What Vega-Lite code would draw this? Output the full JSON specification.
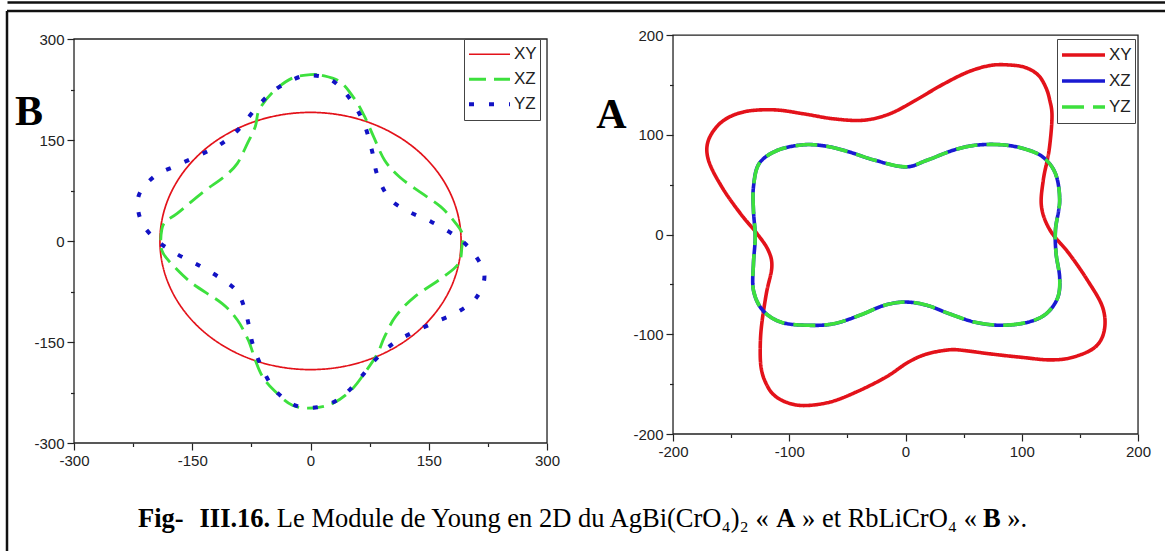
{
  "$schema": "https://vega.github.io/schema/vega-lite/v6.json",
  "autosize": "none",
  "padding": {"left": 7, "top": 11, "right": 0, "bottom": 0},
  "width": 1158,
  "height": 540,
  "background": "white",
  "config": {
    "view": {"stroke": "#111", "strokeWidth": 2.5, "strokeDash": [1158, 1698, 540, 0]},
    "axis": {"domain": false, "grid": false, "labelFont": "Liberation Sans", "labelFontSize": 15, "labelColor": "#222", "tickColor": "#222", "tickWidth": 1.2, "labelPadding": 3, "title": null, "labelFlush": false, "labelOverlap": false}
  },
  "datasets": {
    "frameB": [{"x": -300, "x2": 300, "y": -300, "y2": 300}],
    "frameA": [{"x": -200, "x2": 200, "y": -200, "y2": 200}],
    "letterB": [{"x": -357, "y": 172, "text": "B"}],
    "letterA": [{"x": -253, "y": 107, "text": "A"}],
    "capBold": [
      {"x": -218.8, "y": -424.8, "text": "Fig-"},
      {"x": -140.8, "y": -424.8, "text": "III.16."},
      {"x": 590.9, "y": -424.8, "text": "A"},
      {"x": 853.1, "y": -424.8, "text": "B"}
    ],
    "capReg": [
      {"x": -42.7, "y": -424.8, "text": "Le Module de Young en 2D du AgBi(CrO₄)₂ «"},
      {"x": 623.5, "y": -424.8, "text": "» et RbLiCrO₄ «"},
      {"x": 883.9, "y": -424.8, "text": "»."}
    ],
    "curvesB": [
      {"series": "XY", "i": 0, "x": 191, "y": 0},
      {"series": "XY", "i": 1, "x": 188.1, "y": 33.2},
      {"series": "XY", "i": 2, "x": 179.5, "y": 65.3},
      {"series": "XY", "i": 3, "x": 165.4, "y": 95.5},
      {"series": "XY", "i": 4, "x": 146.3, "y": 122.8},
      {"series": "XY", "i": 5, "x": 122.8, "y": 146.3},
      {"series": "XY", "i": 6, "x": 95.5, "y": 165.4},
      {"series": "XY", "i": 7, "x": 65.3, "y": 179.5},
      {"series": "XY", "i": 8, "x": 33.2, "y": 188.1},
      {"series": "XY", "i": 9, "x": 0, "y": 191},
      {"series": "XY", "i": 10, "x": -33.2, "y": 188.1},
      {"series": "XY", "i": 11, "x": -65.3, "y": 179.5},
      {"series": "XY", "i": 12, "x": -95.5, "y": 165.4},
      {"series": "XY", "i": 13, "x": -122.8, "y": 146.3},
      {"series": "XY", "i": 14, "x": -146.3, "y": 122.8},
      {"series": "XY", "i": 15, "x": -165.4, "y": 95.5},
      {"series": "XY", "i": 16, "x": -179.5, "y": 65.3},
      {"series": "XY", "i": 17, "x": -188.1, "y": 33.2},
      {"series": "XY", "i": 18, "x": -191, "y": 0},
      {"series": "XY", "i": 19, "x": -188.1, "y": -33.2},
      {"series": "XY", "i": 20, "x": -179.5, "y": -65.3},
      {"series": "XY", "i": 21, "x": -165.4, "y": -95.5},
      {"series": "XY", "i": 22, "x": -146.3, "y": -122.8},
      {"series": "XY", "i": 23, "x": -122.8, "y": -146.3},
      {"series": "XY", "i": 24, "x": -95.5, "y": -165.4},
      {"series": "XY", "i": 25, "x": -65.3, "y": -179.5},
      {"series": "XY", "i": 26, "x": -33.2, "y": -188.1},
      {"series": "XY", "i": 27, "x": 0, "y": -191},
      {"series": "XY", "i": 28, "x": 33.2, "y": -188.1},
      {"series": "XY", "i": 29, "x": 65.3, "y": -179.5},
      {"series": "XY", "i": 30, "x": 95.5, "y": -165.4},
      {"series": "XY", "i": 31, "x": 122.8, "y": -146.3},
      {"series": "XY", "i": 32, "x": 146.3, "y": -122.8},
      {"series": "XY", "i": 33, "x": 165.4, "y": -95.5},
      {"series": "XY", "i": 34, "x": 179.5, "y": -65.3},
      {"series": "XY", "i": 35, "x": 188.1, "y": -33.2},
      {"series": "XZ", "i": 0, "x": 0, "y": 247},
      {"series": "XZ", "i": 1, "x": 14.5, "y": 246},
      {"series": "XZ", "i": 2, "x": 38, "y": 236},
      {"series": "XZ", "i": 3, "x": 57, "y": 209},
      {"series": "XZ", "i": 4, "x": 68.5, "y": 185},
      {"series": "XZ", "i": 5, "x": 80, "y": 155},
      {"series": "XZ", "i": 6, "x": 94, "y": 120},
      {"series": "XZ", "i": 7, "x": 113, "y": 95},
      {"series": "XZ", "i": 8, "x": 141, "y": 71},
      {"series": "XZ", "i": 9, "x": 165, "y": 51},
      {"series": "XZ", "i": 10, "x": 181, "y": 31},
      {"series": "XZ", "i": 11, "x": 192.6, "y": 11},
      {"series": "XZ", "i": 12, "x": 192, "y": -9},
      {"series": "XZ", "i": 13, "x": 188, "y": -33},
      {"series": "XZ", "i": 14, "x": 169, "y": -53},
      {"series": "XZ", "i": 15, "x": 132, "y": -83},
      {"series": "XZ", "i": 16, "x": 108, "y": -112},
      {"series": "XZ", "i": 17, "x": 94, "y": -142},
      {"series": "XZ", "i": 18, "x": 85, "y": -167},
      {"series": "XZ", "i": 19, "x": 71, "y": -192},
      {"series": "XZ", "i": 20, "x": 52, "y": -221},
      {"series": "XZ", "i": 21, "x": 28.5, "y": -241},
      {"series": "XZ", "i": 22, "x": 3, "y": -248},
      {"series": "XZ", "i": 23, "x": -23, "y": -244},
      {"series": "XZ", "i": 24, "x": -47, "y": -221},
      {"series": "XZ", "i": 25, "x": -61, "y": -201},
      {"series": "XZ", "i": 26, "x": -70, "y": -177},
      {"series": "XZ", "i": 27, "x": -79, "y": -147},
      {"series": "XZ", "i": 28, "x": -93, "y": -117},
      {"series": "XZ", "i": 29, "x": -112, "y": -93},
      {"series": "XZ", "i": 30, "x": -150, "y": -63},
      {"series": "XZ", "i": 31, "x": -173, "y": -38},
      {"series": "XZ", "i": 32, "x": -187, "y": -18},
      {"series": "XZ", "i": 33, "x": -190, "y": 0},
      {"series": "XZ", "i": 34, "x": -186, "y": 26},
      {"series": "XZ", "i": 35, "x": -169, "y": 41},
      {"series": "XZ", "i": 36, "x": -136, "y": 73},
      {"series": "XZ", "i": 37, "x": -110, "y": 95},
      {"series": "XZ", "i": 38, "x": -93, "y": 115},
      {"series": "XZ", "i": 39, "x": -80, "y": 145},
      {"series": "XZ", "i": 40, "x": -70, "y": 170},
      {"series": "XZ", "i": 41, "x": -65, "y": 195},
      {"series": "XZ", "i": 42, "x": -47, "y": 222},
      {"series": "XZ", "i": 43, "x": -23, "y": 242},
      {"series": "YZ", "i": 0, "x": 0, "y": 246},
      {"series": "YZ", "i": 1, "x": 28, "y": 238},
      {"series": "YZ", "i": 2, "x": 52, "y": 208},
      {"series": "YZ", "i": 3, "x": 68, "y": 174},
      {"series": "YZ", "i": 4, "x": 78, "y": 134},
      {"series": "YZ", "i": 5, "x": 85, "y": 97},
      {"series": "YZ", "i": 6, "x": 101, "y": 62},
      {"series": "YZ", "i": 7, "x": 126, "y": 43},
      {"series": "YZ", "i": 8, "x": 154, "y": 28},
      {"series": "YZ", "i": 9, "x": 183, "y": 8},
      {"series": "YZ", "i": 10, "x": 204, "y": -14},
      {"series": "YZ", "i": 11, "x": 220.5, "y": -49},
      {"series": "YZ", "i": 12, "x": 211, "y": -83},
      {"series": "YZ", "i": 13, "x": 187.5, "y": -105},
      {"series": "YZ", "i": 14, "x": 159, "y": -120},
      {"series": "YZ", "i": 15, "x": 131, "y": -135},
      {"series": "YZ", "i": 16, "x": 105, "y": -152},
      {"series": "YZ", "i": 17, "x": 81.6, "y": -177},
      {"series": "YZ", "i": 18, "x": 60.5, "y": -207},
      {"series": "YZ", "i": 19, "x": 37, "y": -234},
      {"series": "YZ", "i": 20, "x": 8.7, "y": -247},
      {"series": "YZ", "i": 21, "x": -19.5, "y": -244},
      {"series": "YZ", "i": 22, "x": -45, "y": -221.5},
      {"series": "YZ", "i": 23, "x": -62, "y": -187},
      {"series": "YZ", "i": 24, "x": -73.6, "y": -152},
      {"series": "YZ", "i": 25, "x": -80.7, "y": -113},
      {"series": "YZ", "i": 26, "x": -92.5, "y": -76},
      {"series": "YZ", "i": 27, "x": -116, "y": -54},
      {"series": "YZ", "i": 28, "x": -142, "y": -36},
      {"series": "YZ", "i": 29, "x": -170, "y": -19},
      {"series": "YZ", "i": 30, "x": -196, "y": 2},
      {"series": "YZ", "i": 31, "x": -215, "y": 30},
      {"series": "YZ", "i": 32, "x": -218, "y": 67},
      {"series": "YZ", "i": 33, "x": -198, "y": 96},
      {"series": "YZ", "i": 34, "x": -170, "y": 112},
      {"series": "YZ", "i": 35, "x": -142, "y": 127},
      {"series": "YZ", "i": 36, "x": -115, "y": 143},
      {"series": "YZ", "i": 37, "x": -91, "y": 166},
      {"series": "YZ", "i": 38, "x": -70, "y": 196},
      {"series": "YZ", "i": 39, "x": -48, "y": 222},
      {"series": "YZ", "i": 40, "x": -22, "y": 240}
    ],
    "curvesA": [
      {"series": "XY", "i": 0, "x": 89, "y": 170},
      {"series": "XY", "i": 1, "x": 103, "y": 167.5},
      {"series": "XY", "i": 2, "x": 114, "y": 160},
      {"series": "XY", "i": 3, "x": 120.5, "y": 148},
      {"series": "XY", "i": 4, "x": 124, "y": 135},
      {"series": "XY", "i": 5, "x": 126, "y": 118},
      {"series": "XY", "i": 6, "x": 123.5, "y": 84.5},
      {"series": "XY", "i": 7, "x": 118.5, "y": 54.6},
      {"series": "XY", "i": 8, "x": 117, "y": 27.6},
      {"series": "XY", "i": 9, "x": 124.5, "y": 4},
      {"series": "XY", "i": 10, "x": 140.6, "y": -19},
      {"series": "XY", "i": 11, "x": 156.6, "y": -46},
      {"series": "XY", "i": 12, "x": 169.5, "y": -72.8},
      {"series": "XY", "i": 13, "x": 171, "y": -96},
      {"series": "XY", "i": 14, "x": 163, "y": -113},
      {"series": "XY", "i": 15, "x": 144, "y": -123},
      {"series": "XY", "i": 16, "x": 124.5, "y": -125.7},
      {"series": "XY", "i": 17, "x": 98.8, "y": -123},
      {"series": "XY", "i": 18, "x": 73, "y": -119.7},
      {"series": "XY", "i": 19, "x": 50.6, "y": -116.3},
      {"series": "XY", "i": 20, "x": 37.8, "y": -115.6},
      {"series": "XY", "i": 21, "x": 18.5, "y": -119.7},
      {"series": "XY", "i": 22, "x": 2.4, "y": -128},
      {"series": "XY", "i": 23, "x": -16.9, "y": -143},
      {"series": "XY", "i": 24, "x": -42.6, "y": -158},
      {"series": "XY", "i": 25, "x": -65, "y": -168},
      {"series": "XY", "i": 26, "x": -87.6, "y": -171.5},
      {"series": "XY", "i": 27, "x": -103, "y": -168},
      {"series": "XY", "i": 28, "x": -114, "y": -160},
      {"series": "XY", "i": 29, "x": -120.5, "y": -148},
      {"series": "XY", "i": 30, "x": -124, "y": -135},
      {"series": "XY", "i": 31, "x": -125, "y": -118},
      {"series": "XY", "i": 32, "x": -124, "y": -93},
      {"series": "XY", "i": 33, "x": -119.7, "y": -59},
      {"series": "XY", "i": 34, "x": -115, "y": -32.6},
      {"series": "XY", "i": 35, "x": -118, "y": -16},
      {"series": "XY", "i": 36, "x": -127.7, "y": 0.8},
      {"series": "XY", "i": 37, "x": -142, "y": 21},
      {"series": "XY", "i": 38, "x": -158, "y": 47.7},
      {"series": "XY", "i": 39, "x": -169.5, "y": 74.5},
      {"series": "XY", "i": 40, "x": -169.5, "y": 94.6},
      {"series": "XY", "i": 41, "x": -158, "y": 113},
      {"series": "XY", "i": 42, "x": -139, "y": 123},
      {"series": "XY", "i": 43, "x": -113, "y": 125},
      {"series": "XY", "i": 44, "x": -87.6, "y": 121},
      {"series": "XY", "i": 45, "x": -61.9, "y": 116},
      {"series": "XY", "i": 46, "x": -36, "y": 114.6},
      {"series": "XY", "i": 47, "x": -13.6, "y": 121},
      {"series": "XY", "i": 48, "x": 8.8, "y": 134.7},
      {"series": "XY", "i": 49, "x": 31.3, "y": 150},
      {"series": "XY", "i": 50, "x": 53.8, "y": 163},
      {"series": "XY", "i": 51, "x": 73, "y": 169.5},
      {"series": "XZ", "i": 0, "x": 0, "y": 67.8},
      {"series": "XZ", "i": 1, "x": 18.5, "y": 74.5},
      {"series": "XZ", "i": 2, "x": 41, "y": 84.5},
      {"series": "XZ", "i": 3, "x": 60, "y": 89.5},
      {"series": "XZ", "i": 4, "x": 82.7, "y": 90},
      {"series": "XZ", "i": 5, "x": 102, "y": 86},
      {"series": "XZ", "i": 6, "x": 118, "y": 77.8},
      {"series": "XZ", "i": 7, "x": 129, "y": 61},
      {"series": "XZ", "i": 8, "x": 132.6, "y": 34},
      {"series": "XZ", "i": 9, "x": 129, "y": 5},
      {"series": "XZ", "i": 10, "x": 129.5, "y": -19},
      {"series": "XZ", "i": 11, "x": 132.6, "y": -43},
      {"series": "XZ", "i": 12, "x": 131, "y": -63},
      {"series": "XZ", "i": 13, "x": 121, "y": -79.5},
      {"series": "XZ", "i": 14, "x": 105, "y": -88},
      {"series": "XZ", "i": 15, "x": 82.7, "y": -91},
      {"series": "XZ", "i": 16, "x": 60, "y": -88},
      {"series": "XZ", "i": 17, "x": 37.8, "y": -79.5},
      {"series": "XZ", "i": 18, "x": 18.5, "y": -71},
      {"series": "XZ", "i": 19, "x": 0, "y": -67.7},
      {"series": "XZ", "i": 20, "x": -18.3, "y": -71},
      {"series": "XZ", "i": 21, "x": -39.4, "y": -81},
      {"series": "XZ", "i": 22, "x": -61.9, "y": -89.5},
      {"series": "XZ", "i": 23, "x": -84, "y": -91},
      {"series": "XZ", "i": 24, "x": -106.8, "y": -88},
      {"series": "XZ", "i": 25, "x": -122.8, "y": -76},
      {"series": "XZ", "i": 26, "x": -130.8, "y": -56},
      {"series": "XZ", "i": 27, "x": -130.8, "y": -29},
      {"series": "XZ", "i": 28, "x": -129.3, "y": -2.5},
      {"series": "XZ", "i": 29, "x": -130.8, "y": 24},
      {"series": "XZ", "i": 30, "x": -130.8, "y": 47.7},
      {"series": "XZ", "i": 31, "x": -126, "y": 71},
      {"series": "XZ", "i": 32, "x": -110, "y": 84.5},
      {"series": "XZ", "i": 33, "x": -87.6, "y": 90},
      {"series": "XZ", "i": 34, "x": -68, "y": 88.5},
      {"series": "XZ", "i": 35, "x": -49, "y": 83},
      {"series": "XZ", "i": 36, "x": -26.5, "y": 74.5},
      {"series": "YZ", "i": 0, "x": 0, "y": 67.8},
      {"series": "YZ", "i": 1, "x": 18.5, "y": 74.5},
      {"series": "YZ", "i": 2, "x": 41, "y": 84.5},
      {"series": "YZ", "i": 3, "x": 60, "y": 89.5},
      {"series": "YZ", "i": 4, "x": 82.7, "y": 90},
      {"series": "YZ", "i": 5, "x": 102, "y": 86},
      {"series": "YZ", "i": 6, "x": 118, "y": 77.8},
      {"series": "YZ", "i": 7, "x": 129, "y": 61},
      {"series": "YZ", "i": 8, "x": 132.6, "y": 34},
      {"series": "YZ", "i": 9, "x": 129, "y": 5},
      {"series": "YZ", "i": 10, "x": 129.5, "y": -19},
      {"series": "YZ", "i": 11, "x": 132.6, "y": -43},
      {"series": "YZ", "i": 12, "x": 131, "y": -63},
      {"series": "YZ", "i": 13, "x": 121, "y": -79.5},
      {"series": "YZ", "i": 14, "x": 105, "y": -88},
      {"series": "YZ", "i": 15, "x": 82.7, "y": -91},
      {"series": "YZ", "i": 16, "x": 60, "y": -88},
      {"series": "YZ", "i": 17, "x": 37.8, "y": -79.5},
      {"series": "YZ", "i": 18, "x": 18.5, "y": -71},
      {"series": "YZ", "i": 19, "x": 0, "y": -67.7},
      {"series": "YZ", "i": 20, "x": -18.3, "y": -71},
      {"series": "YZ", "i": 21, "x": -39.4, "y": -81},
      {"series": "YZ", "i": 22, "x": -61.9, "y": -89.5},
      {"series": "YZ", "i": 23, "x": -84, "y": -91},
      {"series": "YZ", "i": 24, "x": -106.8, "y": -88},
      {"series": "YZ", "i": 25, "x": -122.8, "y": -76},
      {"series": "YZ", "i": 26, "x": -130.8, "y": -56},
      {"series": "YZ", "i": 27, "x": -130.8, "y": -29},
      {"series": "YZ", "i": 28, "x": -129.3, "y": -2.5},
      {"series": "YZ", "i": 29, "x": -130.8, "y": 24},
      {"series": "YZ", "i": 30, "x": -130.8, "y": 47.7},
      {"series": "YZ", "i": 31, "x": -126, "y": 71},
      {"series": "YZ", "i": 32, "x": -110, "y": 84.5},
      {"series": "YZ", "i": 33, "x": -87.6, "y": 90},
      {"series": "YZ", "i": 34, "x": -68, "y": 88.5},
      {"series": "YZ", "i": 35, "x": -49, "y": 83},
      {"series": "YZ", "i": 36, "x": -26.5, "y": 74.5}
    ]
  },
  "layer": [
    {
      "encoding": {
        "x": {"field": "x", "type": "quantitative", "scale": {"domain": [-385.0, 1083.9], "nice": false, "zero": false},
          "axis": {"orient": "bottom", "offset": -108, "values": [-300, -225, -150, -75, 0, 75, 150, 225, 300],
            "labelExpr": "datum.value % 150 === 0 ? '' + datum.value : ''",
            "tickSize": {"condition": {"test": "datum.value % 150 !== 0", "value": 3.5}, "value": 7}}},
        "y": {"field": "y", "type": "quantitative", "scale": {"domain": [-460.4, 341.6], "nice": false, "zero": false},
          "axis": {"orient": "left", "offset": -67, "values": [-300, -225, -150, -75, 0, 75, 150, 225, 300],
            "labelExpr": "datum.value % 150 === 0 ? '' + datum.value : ''",
            "tickSize": {"condition": {"test": "datum.value % 150 !== 0", "value": 3.5}, "value": 7}}}
      },
      "layer": [
        {"data": {"name": "frameB"}, "mark": {"type": "rect", "filled": false, "stroke": "#222", "strokeWidth": 1.3},
          "encoding": {"x2": {"field": "x2"}, "y2": {"field": "y2"}}},
        {"data": {"name": "curvesB"}, "transform": [{"filter": "datum.series !== 'YZ'"}],
          "mark": {"type": "line", "interpolate": "cardinal-closed", "strokeCap": "butt"},
          "encoding": {
            "order": {"field": "i", "type": "quantitative"},
            "color": {"field": "series", "type": "nominal", "scale": {"domain": ["XY", "XZ", "YZ"], "range": ["#e3121a", "#3de03d", "#1212c4"]},
              "legend": {"orient": "none", "legendX": 457, "legendY": 28, "title": null, "symbolType": "stroke", "symbolSize": 1681, "clipHeight": 24.5, "rowPadding": 0, "padding": 3, "strokeColor": "#444", "fillColor": "white", "labelFont": "Liberation Sans", "labelFontSize": 17, "labelColor": "#222", "labelOffset": 2}},
            "strokeDash": {"field": "series", "type": "nominal", "scale": {"domain": ["XY", "XZ", "YZ"], "range": [[1, 0], [17, 8], [5, 15]]}},
            "strokeWidth": {"field": "series", "type": "nominal", "scale": {"domain": ["XY", "XZ", "YZ"], "range": [1.7, 4, 4]}}
          }},
        {"data": {"name": "curvesB"}, "transform": [{"filter": "datum.series === 'YZ'"}],
          "mark": {"type": "line", "interpolate": "cardinal-closed", "strokeCap": "butt"},
          "encoding": {
            "order": {"field": "i", "type": "quantitative"},
            "color": {"field": "series", "type": "nominal"},
            "strokeDash": {"field": "series", "type": "nominal"},
            "strokeWidth": {"field": "series", "type": "nominal"}
          }},
        {"data": {"name": "letterB"}, "mark": {"type": "text", "font": "Liberation Serif", "fontWeight": "bold", "fontSize": 42, "align": "center", "baseline": "alphabetic", "color": "black"},
          "encoding": {"text": {"field": "text"}}},
        {"data": {"name": "capBold"}, "mark": {"type": "text", "font": "Liberation Serif", "fontWeight": "bold", "fontSize": 26.5, "align": "left", "baseline": "alphabetic", "color": "black"},
          "encoding": {"text": {"field": "text"}}},
        {"data": {"name": "capReg"}, "mark": {"type": "text", "font": "Liberation Serif", "fontSize": 26.5, "align": "left", "baseline": "alphabetic", "color": "black"},
          "encoding": {"text": {"field": "text"}}}
      ]
    },
    {
      "encoding": {
        "x": {"field": "x", "type": "quantitative", "scale": {"domain": [-772.9, 223.2], "nice": false, "zero": false},
          "axis": {"orient": "bottom", "offset": -117, "values": [-200, -150, -100, -50, 0, 50, 100, 150, 200],
            "labelExpr": "datum.value % 100 === 0 ? '' + datum.value : ''",
            "tickSize": {"condition": {"test": "datum.value % 100 !== 0", "value": 3.5}, "value": 7}}},
        "y": {"field": "y", "type": "quantitative", "scale": {"domain": [-317.3, 224.1], "nice": false, "zero": false},
          "axis": {"orient": "left", "offset": -666, "values": [-200, -150, -100, -50, 0, 50, 100, 150, 200],
            "labelExpr": "datum.value % 100 === 0 ? '' + datum.value : ''",
            "tickSize": {"condition": {"test": "datum.value % 100 !== 0", "value": 3.5}, "value": 7}}}
      },
      "layer": [
        {"data": {"name": "frameA"}, "mark": {"type": "rect", "filled": false, "stroke": "#222", "strokeWidth": 1.3},
          "encoding": {"x2": {"field": "x2"}, "y2": {"field": "y2"}}},
        {"data": {"name": "curvesA"}, "transform": [{"filter": "datum.series !== 'YZ'"}],
          "mark": {"type": "line", "interpolate": "cardinal-closed", "strokeWidth": 3.6, "strokeCap": "butt"},
          "encoding": {
            "order": {"field": "i", "type": "quantitative"},
            "color": {"field": "series", "type": "nominal", "scale": {"domain": ["XY", "XZ", "YZ"], "range": ["#e3121a", "#1a1ad2", "#3de03d"]},
              "legend": {"orient": "none", "legendX": 1050, "legendY": 28, "title": null, "symbolType": "stroke", "symbolSize": 1849, "symbolStrokeWidth": 3.6, "clipHeight": 26, "rowPadding": 0, "padding": 3, "strokeColor": "#444", "fillColor": "white", "labelFont": "Liberation Sans", "labelFontSize": 17, "labelColor": "#222", "labelOffset": 2}},
            "strokeDash": {"field": "series", "type": "nominal", "scale": {"domain": ["XY", "XZ", "YZ"], "range": [[1, 0], [1, 0], [22, 9]]}}
          }},
        {"data": {"name": "curvesA"}, "transform": [{"filter": "datum.series === 'YZ'"}],
          "mark": {"type": "line", "interpolate": "cardinal-closed", "strokeWidth": 3.6, "strokeCap": "butt"},
          "encoding": {
            "order": {"field": "i", "type": "quantitative"},
            "color": {"field": "series", "type": "nominal"},
            "strokeDash": {"field": "series", "type": "nominal"}
          }},
        {"data": {"name": "letterA"}, "mark": {"type": "text", "font": "Liberation Serif", "fontWeight": "bold", "fontSize": 42, "align": "center", "baseline": "alphabetic", "color": "black"},
          "encoding": {"text": {"field": "text"}}}
      ]
    },
    {
      "data": {"values": [{"v": 0}]},
      "mark": {"type": "point", "opacity": 0},
      "encoding": {
        "x": {"field": "v", "type": "quantitative", "scale": {"domain": [0, 1]},
          "axis": {"orient": "top", "offset": 9, "domain": true, "domainColor": "#111", "domainWidth": 2.5, "ticks": false, "labels": false}}
      }
    }
  ],
  "resolve": {"scale": {"x": "independent", "y": "independent", "color": "independent", "strokeDash": "independent", "strokeWidth": "independent"}}
}
